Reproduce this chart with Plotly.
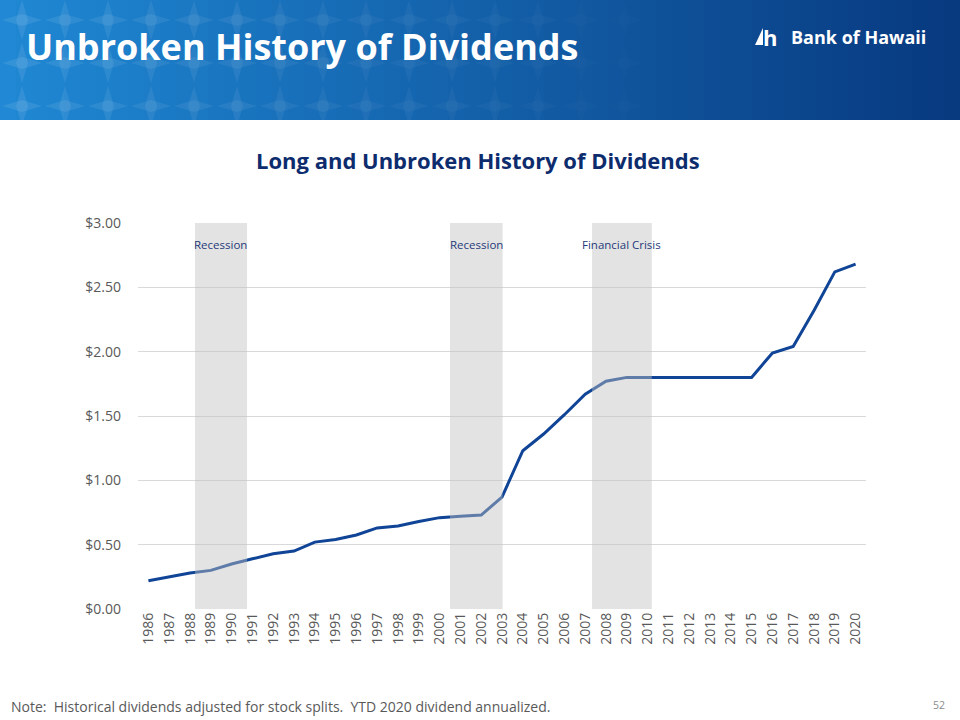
import plotly.graph_objects as go

years = list(range(1986, 2021))
dividends = [0.22, 0.25, 0.28, 0.30, 0.35, 0.39, 0.43, 0.45, 0.52, 0.54,
             0.575, 0.63, 0.645, 0.68, 0.71, 0.72, 0.73, 0.87, 1.23, 1.36,
             1.51, 1.67, 1.77, 1.80, 1.80, 1.80, 1.80, 1.80, 1.80, 1.80,
             1.99, 2.04, 2.32, 2.62, 2.68]
y_ticks = [0, 0.5, 1.0, 1.5, 2.0, 2.5, 3.0]
y_tick_labels = ["$0.00", "$0.50", "$1.00", "$1.50", "$2.00", "$2.50", "$3.00"]
periods = [("Recession", 1988.24, 1990.74),
           ("Recession", 2000.5, 2003.03),
           ("Financial Crisis", 2007.33, 2010.2)]

FONT = "Open Sans"
fig = go.Figure()
fig.add_trace(go.Scatter(x=years, y=dividends, mode="lines",
                         line=dict(color="#0F4496", width=3),
                         hoverinfo="x+y", showlegend=False))

shapes = []
annotations = []

px = lambda x: (x - 138) / 728
py = lambda y: (609 - y) / 386

# header banner gradient
n = 60
c0 = (32, 136, 212)
c1 = (8, 58, 128)
for i in range(n):
    t = i / (n - 1)
    col = tuple(int(c0[k] + (c1[k] - c0[k]) * t) for k in range(3))
    shapes.append(dict(type="rect", xref="paper", yref="paper",
                       x0=px(i * 960 / n), x1=px((i + 1) * 960 / n + 1),
                       y0=py(120), y1=py(0),
                       fillcolor="rgb(%d,%d,%d)" % col, line=dict(width=0), layer="below"))
# subtle pattern on the left of the banner
for r in range(3):
    for c in range(16):
        cx = 22 + c * 43
        cy = 20 + r * 43
        fade = max(0.0, 0.09 * (1 - c / 16))
        if fade <= 0.01:
            continue
        for dx, dy in [(0, -1), (1, 0), (0, 1), (-1, 0)]:
            tipx, tipy = cx + dx * 20, cy + dy * 20
            sx, sy = -dy * 6, dx * 6
            path = "M {} {} L {} {} L {} {} Z".format(
                px(cx + sx), py(cy + sy), px(tipx), py(tipy), px(cx - sx), py(cy - sy))
            shapes.append(dict(type="path", xref="paper", yref="paper", path=path,
                               fillcolor="rgba(255,255,255,%.3f)" % fade, line=dict(width=0),
                               layer="below"))

# logo mark
shapes.append(dict(type="path", xref="paper", yref="paper",
                   path="M {} {} L {} {} L {} {} Z".format(px(755), py(45), px(763), py(28), px(763), py(45)),
                   fillcolor="white", line=dict(width=0), layer="above"))

# shaded periods (drawn above the line, semi-transparent)
for label, x0, x1 in periods:
    shapes.append(dict(type="rect", xref="x", yref="y", x0=x0, x1=x1, y0=0, y1=3.0,
                       fillcolor="rgba(193,193,193,0.45)", line=dict(width=0), layer="above"))
    annotations.append(dict(x=(x0 + x1) / 2, y=2.83, xref="x", yref="y", text=label,
                            showarrow=False,
                            font=dict(family=FONT, size=11.5, color="#1F3A7A")))

annotations += [
    dict(text="<b>Unbroken History of Dividends</b>", x=px(24), y=py(47), xref="paper", yref="paper",
         xanchor="left", yanchor="middle", showarrow=False,
         font=dict(family=FONT, size=36, color="white")),
    dict(text="<b>h</b>", x=px(761), y=py(37), xref="paper", yref="paper",
         xanchor="left", yanchor="middle", showarrow=False,
         font=dict(family=FONT, size=22, color="white")),
    dict(text="<b>Bank of Hawaii</b>", x=px(789), y=py(37), xref="paper", yref="paper",
         xanchor="left", yanchor="middle", showarrow=False,
         font=dict(family=FONT, size=18, color="white")),
    dict(text="<b>Long and Unbroken History of Dividends</b>", x=px(478), y=py(160),
         xref="paper", yref="paper", xanchor="center", yanchor="middle", showarrow=False,
         font=dict(family=FONT, size=22, color="#0D2C6E")),
    dict(text="Note:  Historical dividends adjusted for stock splits.  YTD 2020 dividend annualized.",
         x=px(9), y=py(706), xref="paper", yref="paper", xanchor="left", yanchor="middle",
         showarrow=False, font=dict(family=FONT, size=14, color="#595959")),
    dict(text="52", x=px(947), y=py(705), xref="paper", yref="paper", xanchor="right",
         yanchor="middle", showarrow=False, font=dict(family=FONT, size=10.5, color="#8C8C8C")),
]

fig.update_layout(
    width=960, height=720,
    margin=dict(l=138, r=94, t=223, b=111),
    paper_bgcolor="white", plot_bgcolor="white",
    shapes=shapes, annotations=annotations,
    xaxis=dict(range=[1985.5, 2020.5], tickmode="array", tickvals=years,
               ticktext=[str(y) for y in years], tickangle=-90,
               showgrid=False, zeroline=False, showline=False, ticks="",
               tickfont=dict(family=FONT, size=14, color="#595959")),
    yaxis=dict(range=[0, 3.0], tickmode="array", tickvals=y_ticks, ticktext=y_tick_labels,
               showgrid=True, gridcolor="#D9D9D9", gridwidth=1, zeroline=False,
               showline=False, ticks="", ticklabelstandoff=16,
               tickfont=dict(family=FONT, size=14, color="#595959")),
)

fig.write_html("out.html", config={"displayModeBar": False},
               post_script="document.body.style.margin='0';")
